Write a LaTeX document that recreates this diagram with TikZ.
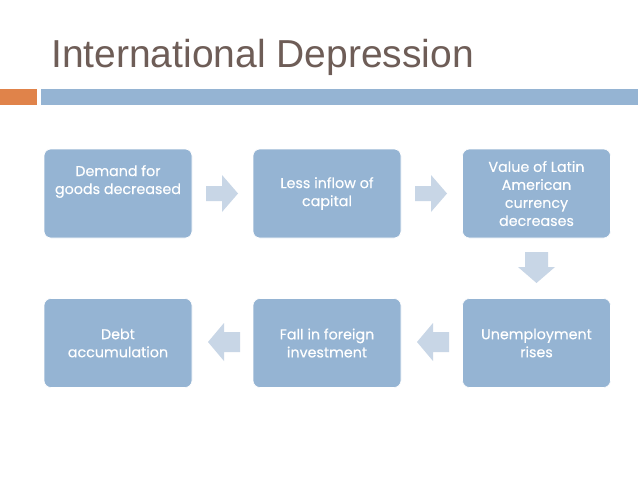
\documentclass[tikz,border=0pt]{standalone}
\usepackage{fontspec}
\setmainfont{Liberation Sans}
\newfontfamily\boxfont[BoldFont=Poppins, BoldFeatures={FakeBold=0.35}]{Poppins}
\definecolor{titlecol}{HTML}{6E5D57}
\definecolor{boxcol}{HTML}{95B4D3}
\definecolor{arrcol}{HTML}{C8D6E6}
\definecolor{orangecol}{HTML}{E0834A}
\definecolor{barcol}{HTML}{95B4D3}
\begin{document}
\begin{tikzpicture}[x=1pt,y=-1pt,
  stepbox/.style={draw=white, line width=0.6pt, fill=boxcol, rounded corners=7pt,
    minimum width=148pt, minimum height=89pt, inner sep=0pt},
  boxtext/.style={text=white, font=\boxfont\bfseries\fontsize{14.3}{18}\selectfont, align=center},
  arr/.style={fill=arrcol, draw=none}]
\useasboundingbox (0,0) rectangle (638,479);
\fill[white] (0,0) rectangle (638,479);
% title
\node[anchor=base west, inner sep=0pt, text=titlecol, font=\fontsize{39}{43}\selectfont] (title) at (51,67.3) {International Depression};
% bars
\fill[orangecol] (0,89) rectangle (37,105);
\fill[barcol] (41,89) rectangle (638,105);
% boxes
\node[stepbox] (b1) at (118,193.5) {};
\node[stepbox] (b2) at (327,193.5) {};
\node[stepbox] (b3) at (536.5,193.5) {};
\node[stepbox] (b4) at (536.5,343) {};
\node[stepbox] (b5) at (327,343) {};
\node[stepbox] (b6) at (118,343) {};
% texts
\node[boxtext] (t1) at (118,181.5) {Demand for\\goods decreased};
\node[boxtext] (t2) at (327,193.5) {Less inflow of\\capital};
\node[boxtext] (t3) at (536.5,193.5) {Value of Latin\\American\\currency\\decreases};
\node[boxtext] (t4) at (536.5,343) {Unemployment\\rises};
\node[boxtext] (t5) at (327,343) {Fall in foreign\\investment};
\node[boxtext] (t6) at (118,343) {Debt\\accumulation};
% arrows (right)
\fill[arr] (206,186) -- (222,186) -- (222,175) -- (238,193.5) -- (222,212) -- (222,201) -- (206,201) -- cycle;
\fill[arr] (415,186) -- (431,186) -- (431,175) -- (447,193.5) -- (431,212) -- (431,201) -- (415,201) -- cycle;
% arrow down
\fill[arr] (525,252) -- (548,252) -- (548,267) -- (555,267) -- (536.5,283) -- (518,267) -- (525,267) -- cycle;
% arrows (left)
\fill[arr] (449,332) -- (433,332) -- (433,323) -- (417,342) -- (433,361) -- (433,352) -- (449,352) -- cycle;
\fill[arr] (240,332) -- (224,332) -- (224,323) -- (208,342) -- (224,361) -- (224,352) -- (240,352) -- cycle;
\end{tikzpicture}
\end{document}
